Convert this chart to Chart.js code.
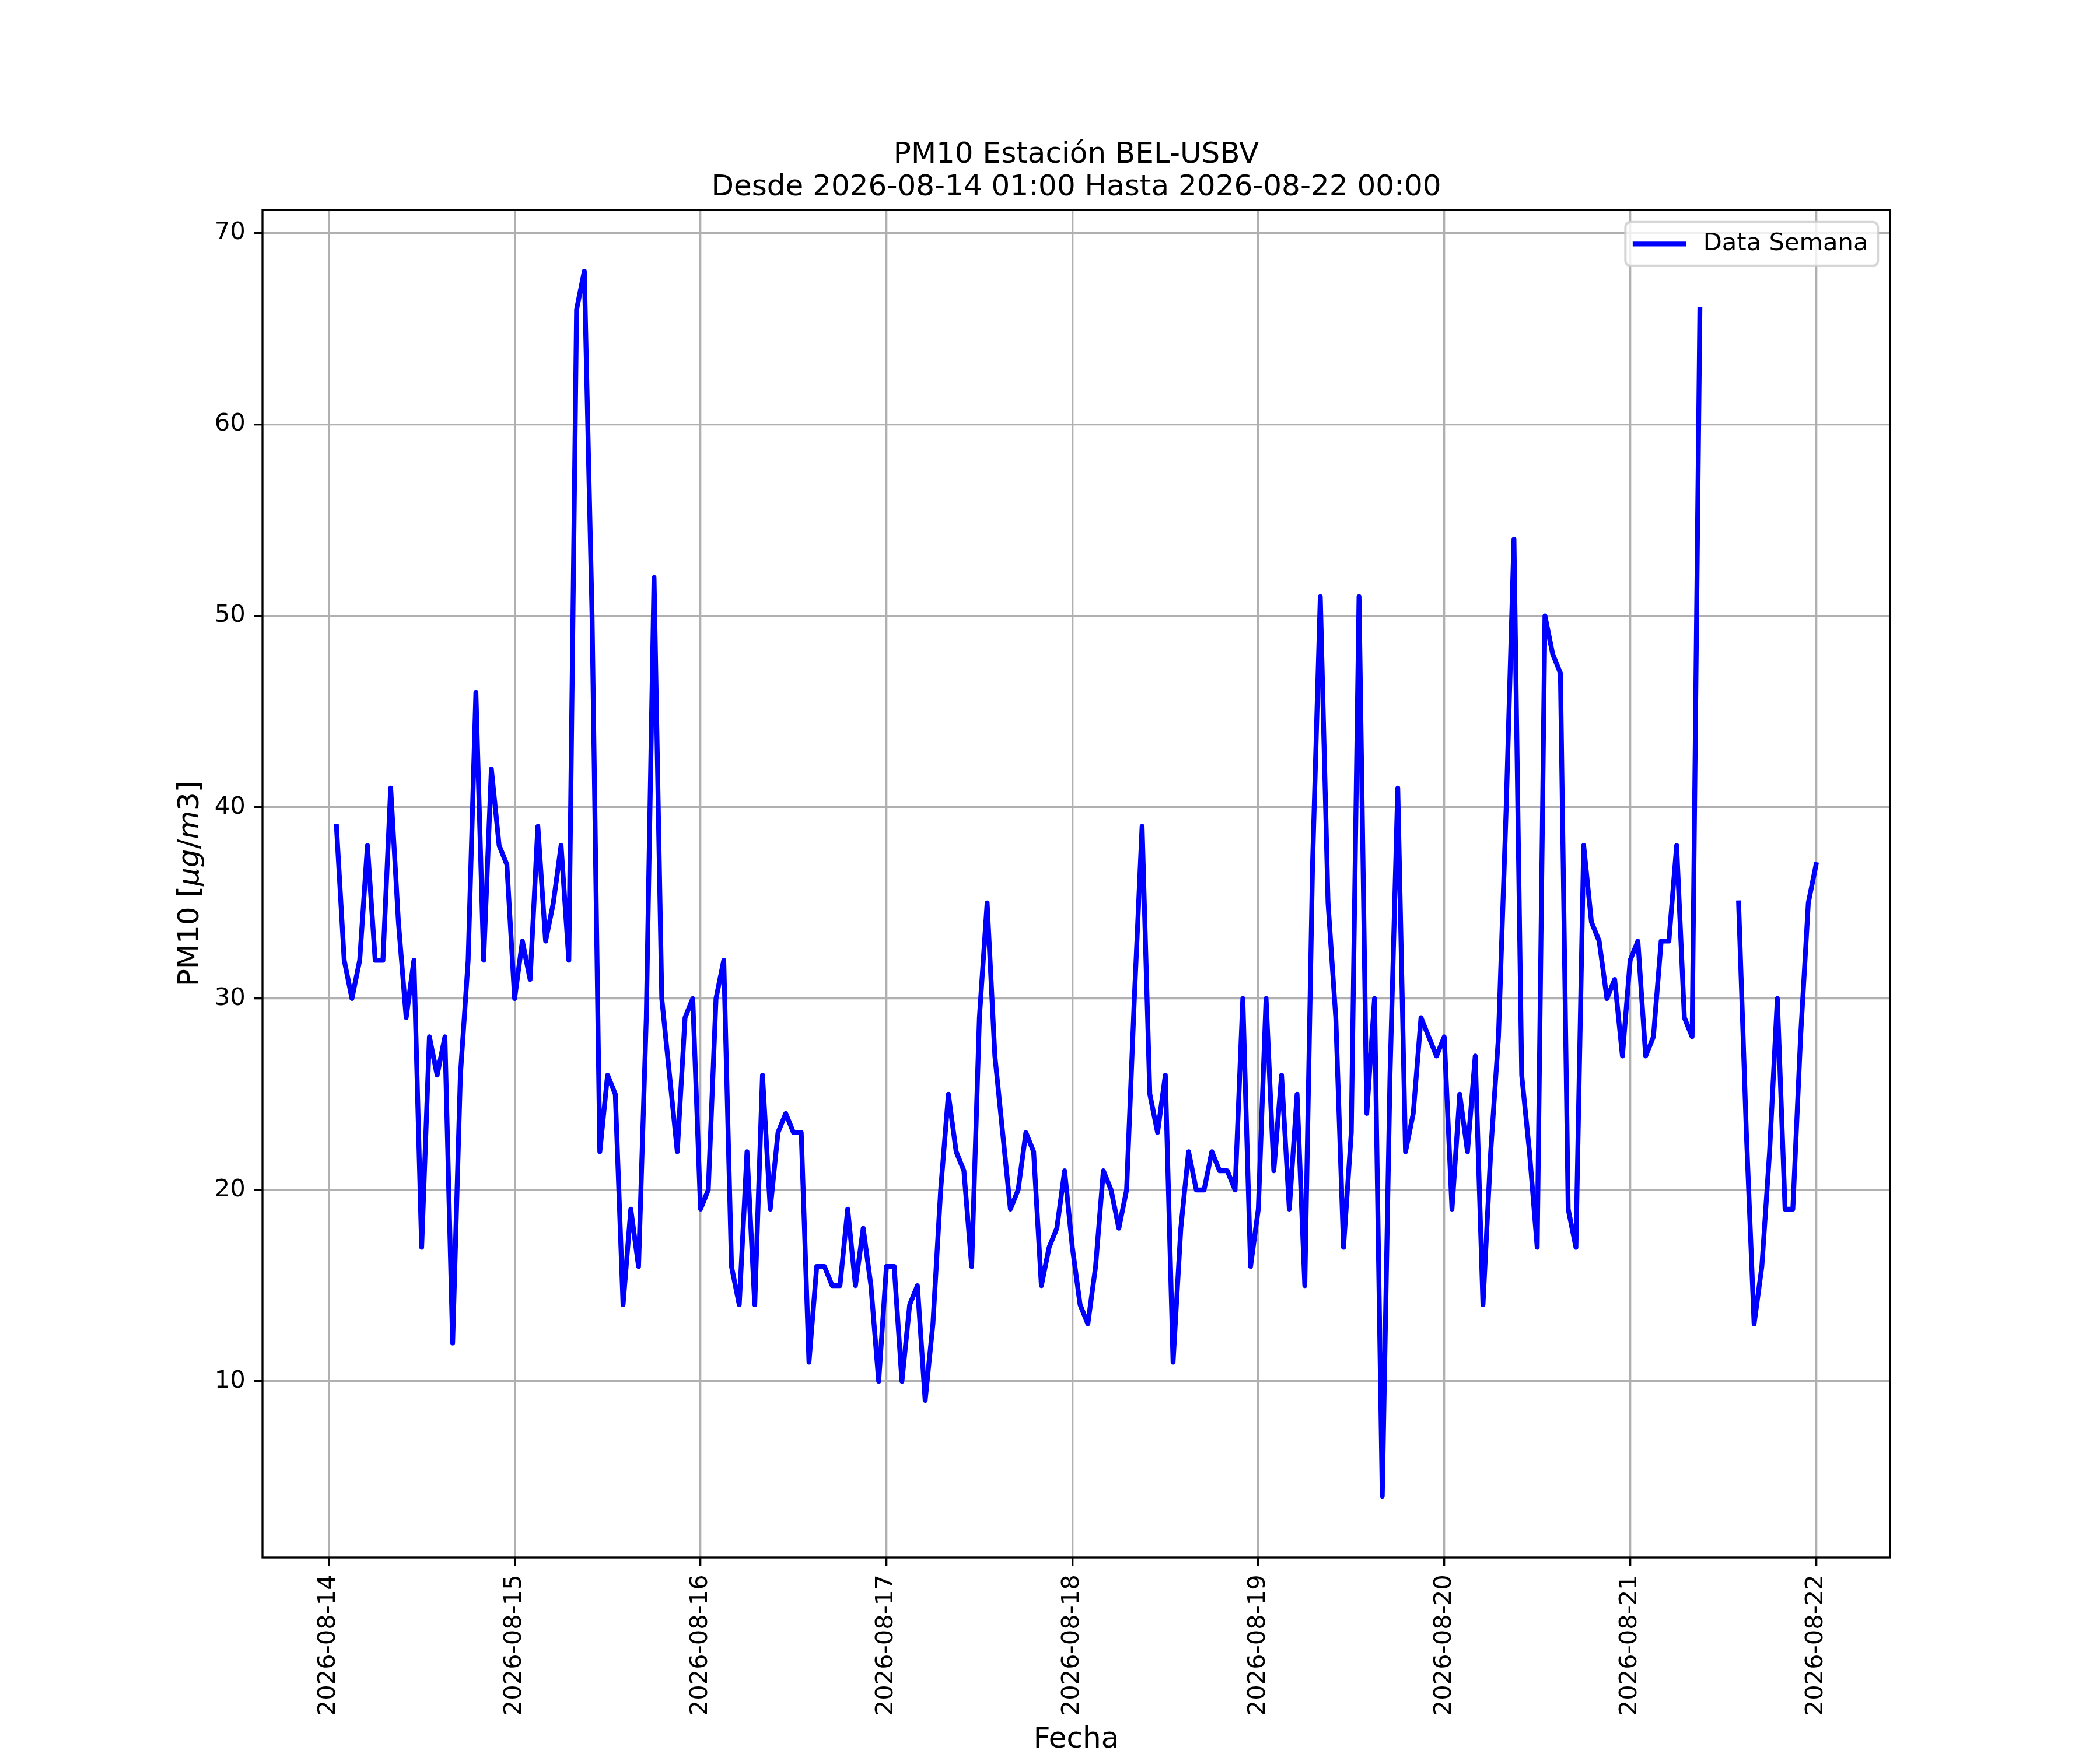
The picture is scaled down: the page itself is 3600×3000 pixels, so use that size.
<!DOCTYPE html>
<html lang="es">
<head>
<meta charset="utf-8">
<title>PM10 Estación BEL-USBV</title>
<script src="https://cdn.jsdelivr.net/npm/chart.js@4.4.1/dist/chart.umd.min.js"></script>
<style>
  html, body { margin: 0; padding: 0; background: #fff; }
  canvas { display: block; }
</style>
</head>
<body>
<canvas id="chartPM10" width="3600" height="3000" style="width:3600px;height:3000px"></canvas>
<script>
// Datos horarios PM10 (hora 1 = 2026-08-14 01:00, hora 192 = 2026-08-22 00:00)
const dias = [
  "2026-08-14", "2026-08-15", "2026-08-16", "2026-08-17", "2026-08-18",
  "2026-08-19", "2026-08-20", "2026-08-21", "2026-08-22",
];
const pm10 = [
  39, 32, 30, 32, 38, 32, 32, 41, 34, 29, 32, 17, 28, 26, 28, 12, 26, 32, 46, 32, 42, 38, 37, 30,
  33, 31, 39, 33, 35, 38, 32, 66, 68, 50, 22, 26, 25, 14, 19, 16, 29, 52, 30, 26, 22, 29, 30, 19,
  20, 30, 32, 16, 14, 22, 14, 26, 19, 23, 24, 23, 23, 11, 16, 16, 15, 15, 19, 15, 18, 15, 10, 16,
  16, 10, 14, 15, 9, 13, 20, 25, 22, 21, 16, 29, 35, 27, 23, 19, 20, 23, 22, 15, 17, 18, 21, 17,
  14, 13, 16, 21, 20, 18, 20, 30, 39, 25, 23, 26, 11, 18, 22, 20, 20, 22, 21, 21, 20, 30, 16, 19,
  30, 21, 26, 19, 25, 15, 37, 51, 35, 29, 17, 23, 51, 24, 30, 4, 26, 41, 22, 24, 29, 28, 27, 28,
  19, 25, 22, 27, 14, 22, 28, 40, 54, 26, 22, 17, 50, 48, 47, 19, 17, 38, 34, 33, 30, 31, 27, 32,
  33, 27, 28, 33, 33, 38, 29, 28, 66, null, null, null, null, 35, 23, 13, 16, 22, 30, 19, 19, 28, 35, 37,
];
const yTicks = [10, 20, 30, 40, 50, 60, 70];

const tituloLineas = ["PM10 Estación BEL-USBV", "Desde 2026-08-14 01:00 Hasta 2026-08-22 00:00"];
const etiquetaX = "Fecha";
const etiquetaY = [
  { t: "PM10 [", estilo: "normal" },
  { t: "μg", estilo: "italic" },
  { t: "/", estilo: "normal" },
  { t: "m", estilo: "italic" },
  { t: "3]", estilo: "normal" },
];
const serieNombre = "Data Semana";

// figura estilo matplotlib: 12x10 in a 300 dpi
const W = 3600, H = 3000;
const PT = 300 / 72;
const FAMILIA = "'DejaVu Sans', sans-serif";
const area = { left: 0.125 * W, right: 0.9 * W, top: (1 - 0.88) * H, bottom: (1 - 0.11) * H };

const puntos = pm10.map((v, i) => ({ x: i + 1, y: v }));
const validos = pm10.filter((v) => v != null);
const xSpan = puntos.length - 1;
const yLo = Math.min(...validos), yHi = Math.max(...validos);
const ySpan = yHi - yLo;

const font = (size, style = "normal") => `${style} ${size}px ${FAMILIA}`;

const decoracion = {
  id: "decoracion",
  afterDatasetsDraw(chart) {
    const { ctx, chartArea: a } = chart;
    ctx.save();
    ctx.strokeStyle = "#000";
    ctx.lineWidth = 0.8 * PT;
    ctx.strokeRect(a.left, a.top, a.right - a.left, a.bottom - a.top);
    ctx.restore();
  },
  afterDraw(chart) {
    const { ctx, chartArea: a } = chart;
    const cx = (a.left + a.right) / 2;
    ctx.save();
    ctx.fillStyle = "#000";

    // título (dos líneas)
    ctx.font = font(12 * PT);
    ctx.textAlign = "center";
    ctx.textBaseline = "alphabetic";
    const base2 = a.top - 6 * PT;
    ctx.fillText(tituloLineas[1], cx, base2);
    ctx.fillText(tituloLineas[0], cx, base2 - 56);

    // etiqueta eje X
    ctx.fillText(etiquetaX, cx, 2996);

    // etiqueta eje Y (rotada, con partes en cursiva)
    ctx.save();
    ctx.translate(340, (a.top + a.bottom) / 2);
    ctx.rotate(-Math.PI / 2);
    ctx.textAlign = "left";
    let total = 0;
    etiquetaY.forEach((s) => {
      ctx.font = font(12 * PT, s.estilo);
      total += ctx.measureText(s.t).width;
    });
    let x = -total / 2;
    etiquetaY.forEach((s) => {
      ctx.font = font(12 * PT, s.estilo);
      ctx.fillText(s.t, x, 0);
      x += ctx.measureText(s.t).width;
    });
    ctx.restore();

    // leyenda arriba a la derecha
    const fs = 10 * PT;
    ctx.font = font(fs);
    const tw = ctx.measureText(serieNombre).width;
    const lw = (0.4 + 2 + 0.8 + 0.4) * fs + tw;
    const lh = 1.8 * fs;
    const lx = a.right - 0.5 * fs - lw;
    const ly = a.top + 0.5 * fs;
    const r = 0.2 * fs;
    ctx.beginPath();
    ctx.roundRect(lx, ly, lw, lh, r);
    ctx.fillStyle = "rgba(255,255,255,0.8)";
    ctx.fill();
    ctx.strokeStyle = "rgba(204,204,204,0.8)";
    ctx.lineWidth = 1 * PT;
    ctx.stroke();

    const my = ly + lh / 2;
    ctx.beginPath();
    ctx.moveTo(lx + 0.4 * fs, my);
    ctx.lineTo(lx + 2.4 * fs, my);
    ctx.strokeStyle = "#0000ff";
    ctx.lineWidth = 2 * PT;
    ctx.lineCap = "square";
    ctx.stroke();

    ctx.fillStyle = "#000";
    ctx.textAlign = "left";
    ctx.textBaseline = "middle";
    ctx.fillText(serieNombre, lx + 3.2 * fs, my);
    ctx.restore();
  },
};

const gridComun = {
  color: "#b0b0b0",
  lineWidth: 0.8 * PT,
  drawTicks: true,
  tickColor: "#000",
  tickWidth: 0.8 * PT,
  tickLength: 3.5 * PT,
};
const ticksComun = {
  color: "#000",
  padding: 3.5 * PT,
  font: { family: FAMILIA, size: 10 * PT },
  autoSkip: false,
};

new Chart(document.getElementById("chartPM10"), {
  type: "line",
  data: {
    datasets: [
      {
        label: serieNombre,
        data: puntos,
        borderColor: "#0000ff",
        borderWidth: 2 * PT,
        pointRadius: 0,
        pointHoverRadius: 0,
        tension: 0,
        spanGaps: false,
        borderJoinStyle: "round",
        borderCapStyle: "square",
        fill: false,
      },
    ],
  },
  options: {
    responsive: false,
    animation: false,
    devicePixelRatio: 1,
    layout: { padding: { left: 0, top: area.top, right: W - area.right, bottom: 0 } },
    plugins: {
      legend: { display: false },
      title: { display: false },
      tooltip: { enabled: false },
    },
    scales: {
      x: {
        type: "linear",
        min: 1 - 0.05 * xSpan,
        max: puntos.length + 0.05 * xSpan,
        afterBuildTicks: (s) => {
          s.ticks = dias.map((d, i) => ({ value: i * 24 }));
        },
        afterFit: (s) => {
          s.height = H - area.bottom;
        },
        ticks: {
          ...ticksComun,
          minRotation: 90,
          maxRotation: 90,
          callback: (v, i) => dias[i],
        },
        grid: gridComun,
        border: { display: false },
      },
      y: {
        min: yLo - 0.05 * ySpan,
        max: yHi + 0.05 * ySpan,
        afterBuildTicks: (s) => {
          s.ticks = yTicks.map((v) => ({ value: v }));
        },
        afterFit: (s) => {
          s.width = area.left;
        },
        ticks: { ...ticksComun, callback: (v) => String(v) },
        grid: gridComun,
        border: { display: false },
      },
    },
  },
  plugins: [decoracion],
});
</script>
</body>
</html>
